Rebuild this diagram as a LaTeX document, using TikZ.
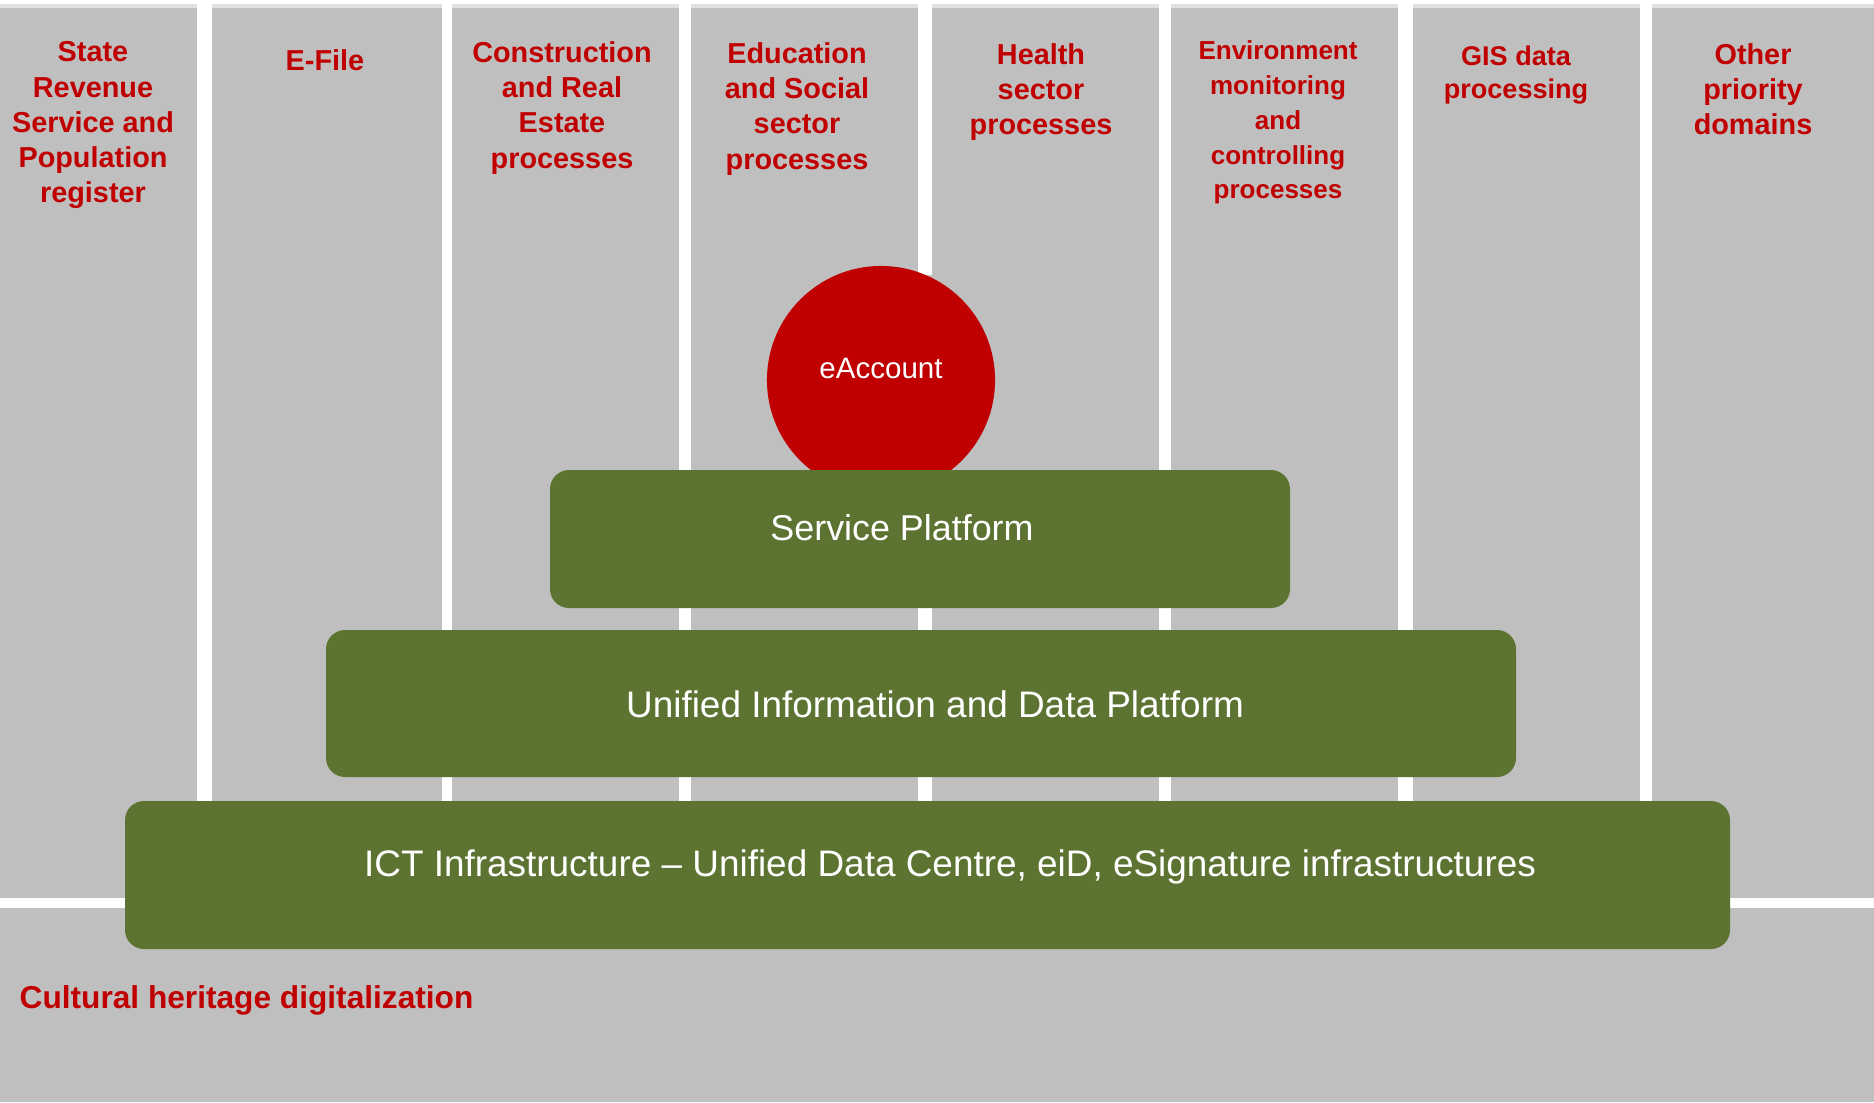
\documentclass[tikz,border=0pt]{standalone}
\usepackage{fontspec}
\setmainfont{Liberation Sans}
\definecolor{colgray}{RGB}{191,191,191}
\definecolor{toplight}{RGB}{224,224,224}
\definecolor{lblred}{RGB}{192,0,0}
\definecolor{platgreen}{RGB}{93,115,49}

\begin{document}
\begin{tikzpicture}[x=0.01cm,y=-0.01cm,
	lbl/.style={anchor=north,inner sep=0pt,align=center,text=lblred,font=\bfseries\fontsize{8.2}{10}\selectfont},
	lblsmall/.style={lbl,font=\bfseries\fontsize{7.4}{9.9}\selectfont},
	plat/.style={fill=platgreen,rounded corners=0.19cm},
	plattext/.style={anchor=base,inner sep=0pt,text=white,font=\fontsize{10.5}{12}\selectfont}]
	\fill[white] (0,0) rectangle (1874,1102);
	% columns
	\foreach \xa/\xb in {0/197,212/442,452/679,691/918,932/1159,1171/1398,1413/1640,1652/1874}
	{
		\fill[toplight] (\xa,4) rectangle (\xb,9);
		\fill[colgray] (\xa,8) rectangle (\xb,898);
	}
	\fill[colgray] (918,275) rectangle (932,470);
	\fill[colgray] (0,908) rectangle (1874,1102);
	% column titles
	\node[lbl] (revenue) at (93,41) {State\\Revenue\\Service and\\Population\\register};
	\node[lbl] (efile) at (325,49) {E-File};
	\node[lbl] (construction) at (562,41) {Construction\\and Real\\Estate\\processes};
	\node[lbl] (education) at (797,42) {Education\\and Social\\sector\\processes};
	\node[lbl] (health) at (1041,43) {Health\\sector\\processes};
	\node[lblsmall] (environment) at (1278,40) {Environment\\monitoring\\and\\controlling\\processes};
	\node[lblsmall,font=\bfseries\fontsize{7.7}{9.5}\selectfont] (gis) at (1516,45) {GIS data\\processing};
	\node[lbl] (other) at (1753,43) {Other\\priority\\domains};
	% eAccount
	\node[circle,fill=lblred,inner sep=0pt,minimum size=2.28cm] (account) at (881,380) {};
	\node[plattext,font=\fontsize{8.4}{10}\selectfont] (accounttext) at (881,378) {eAccount};
	% platforms
	\fill[plat] (550,470) rectangle (1290,608);
	\node[plattext,font=\fontsize{10.2}{12}\selectfont] (service) at (902,540) {Service Platform};
	\fill[plat] (326,630) rectangle (1516,777);
	\node[plattext] (unified) at (935,717) {Unified Information and Data Platform};
	\fill[plat] (125,801) rectangle (1730,949);
	\node[plattext] (ict) at (950,876) {ICT Infrastructure -- Unified Data Centre, eiD, eSignature infrastructures};
	% bottom band
	\node[anchor=base west,inner sep=0pt,text=lblred,font=\bfseries\fontsize{9}{11}\selectfont] (cultural) at (19,1008) {Cultural heritage digitalization};
\end{tikzpicture}
\end{document}
